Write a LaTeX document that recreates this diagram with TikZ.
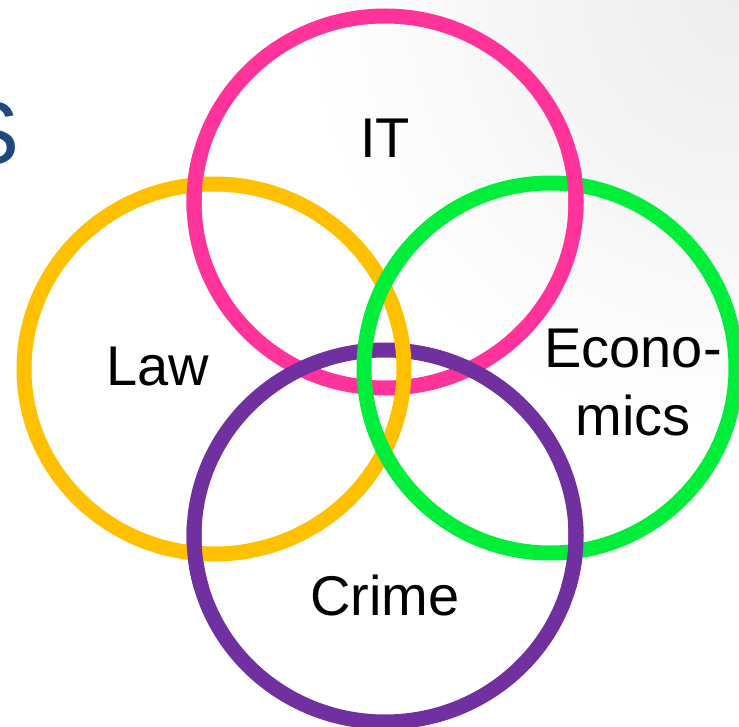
\documentclass[tikz,border=0pt]{standalone}
\usepackage{fontspec}
\setmainfont{Liberation Sans}
\usepackage{tikz}
\definecolor{pink500}{HTML}{FF3399}
\definecolor{amber500}{HTML}{FFC000}
\definecolor{green500}{HTML}{00EE3A}
\definecolor{purple500}{HTML}{7030A0}
\definecolor{navy500}{HTML}{1F497D}
\tikzstyle{ring}=[line width=15pt]
\tikzstyle{lbl}=[inner sep=0pt, anchor=base, font=\fontsize{56}{68}\selectfont]

\begin{document}
\begin{tikzpicture}[x=1pt, y=-1pt]
	\useasboundingbox (0,0) rectangle (739,727);
	\clip (0,0) rectangle (739,727);
	\shade[inner color=black!7, outer color=white] (739,0) circle (440);
	\node[inner sep=0pt, anchor=base east, text=navy500, font=\fontsize{90}{100}\selectfont] (title) at (20,165) {S};
	\coordinate (it) at (385,202);
	\coordinate (law) at (214,369);
	\coordinate (eco) at (550,368);
	\coordinate (crime) at (385,536);
	% rings
	\draw[ring, pink500] (it) ellipse[x radius=191, y radius=186];
	\draw[ring, purple500] (crime) ellipse[x radius=191, y radius=186];
	\draw[ring, amber500] (law) ellipse[x radius=190, y radius=185];
	\draw[ring, green500] (eco) ellipse[x radius=186, y radius=185];
	% crossings where the outer rings lie on top
	\draw[ring, pink500] ([shift={(176:191 and 186)}]it) arc[start angle=176, end angle=196, x radius=191, y radius=186];
	\draw[ring, pink500] ([shift={(-16:191 and 186)}]it) arc[start angle=-16, end angle=4, x radius=191, y radius=186];
	\draw[ring, purple500] ([shift={(164:191 and 186)}]crime) arc[start angle=164, end angle=184, x radius=191, y radius=186];
	\draw[ring, purple500] ([shift={(-4:191 and 186)}]crime) arc[start angle=-4, end angle=16, x radius=191, y radius=186];
	% labels
	\node[lbl] (itlbl) at (385,158) {IT};
	\node[lbl] (lawlbl) at (158,385) {Law};
	\node[lbl] (ecolbl) at (633,367) {Econo-};
	\node[lbl] (ecolbl2) at (633,435) {mics};
	\node[lbl] (crimelbl) at (385,615) {Crime};
\end{tikzpicture}
\end{document}
